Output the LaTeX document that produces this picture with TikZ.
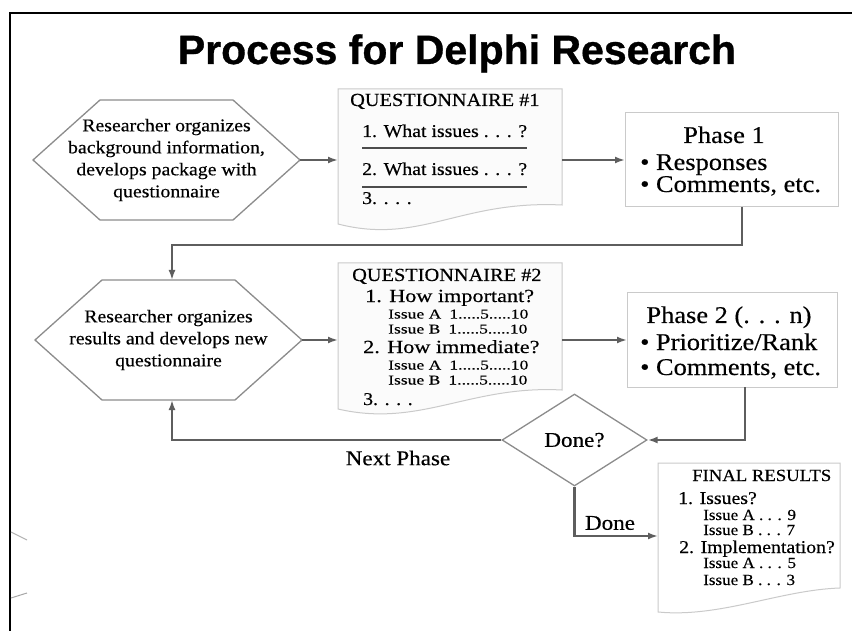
\documentclass[tikz,border=0pt]{standalone}
\usepackage{fontspec}
\setmainfont{Liberation Serif}[FakeStretch=1.1,FakeBold=0.35]
\newfontfamily\widefont{Liberation Serif}[FakeStretch=1.2,FakeBold=0.35]
\newfontfamily\issuefont{Liberation Serif}[FakeStretch=1.3,FakeBold=0.35]
\newfontfamily\titlefont{Liberation Sans Bold}[FakeBold=0.8]
\usetikzlibrary{arrows.meta,shapes.geometric,calc}
\definecolor{arrowgray}{HTML}{5E5E5E}
\definecolor{hexgray}{HTML}{8C8C8C}
\definecolor{boxgray}{HTML}{CACACA}
\newcommand{\fs}[2]{\fontsize{#1}{#2}\selectfont}
\begin{document}
\begin{tikzpicture}[x=1pt,y=-1pt,
  anchorbox/.style={draw=none, inner sep=0pt, outer sep=0pt, rectangle},
  hexnode/.style={anchorbox, align=center, font=\fs{18}{22}},
  hexline/.style={draw=hexgray, line width=1.3pt, line join=miter},
  docline/.style={draw=boxgray, line width=1pt, fill=gray!3},
  phasebox/.style={draw=boxgray, line width=1pt, fill=white, inner sep=0pt, outer sep=0pt, rectangle},
  arr/.style={draw=arrowgray, line width=2.3pt, -{Latex[length=10pt,width=7pt]}},
  txt/.style={inner sep=0pt, anchor=base west},
  qhead/.style={txt, font=\fs{18.5}{20}},
  qitem/.style={txt, font=\fs{18}{20}},
  qitemb/.style={txt, font=\widefont\fs{18.5}{20}},
  qsub/.style={txt, font=\issuefont\fs{13.5}{15}},
  phead/.style={inner sep=0pt, anchor=base, font=\fs{24}{26}},
  pitem/.style={txt, font=\fs{24}{26}},
  fhead/.style={txt, font=\fs{17}{18}},
  fitem/.style={txt, font=\fs{18}{19}},
  fsub/.style={txt, font=\fs{15.5}{16}},
  lbl/.style={inner sep=0pt, font=\fs{21}{24}},
  rule/.style={draw=black!70, line width=1.2pt}
]
\useasboundingbox (0,0) rectangle (852,631);
\fill[white] (0,0) rectangle (852,631);
% frame
\draw[line width=1.5pt] (852,13) -- (10,13) -- (10,631);
\draw[gray!60, line width=1pt] (11,532) -- (27,540);
\draw[gray!70, line width=1pt] (11,598) -- (27,593);

% title
\node[inner sep=0pt, anchor=base, font=\titlefont\fs{41}{43}] (title) at (457,64) {Process for Delphi Research};

% hexagon 1
\node[hexnode, minimum width=267pt, minimum height=120pt] (h1) at (166.5,160) {Researcher organizes\\background information,\\develops package with\\questionnaire};
\draw[hexline] (h1.west) -- ([xshift=67pt]h1.north west) -- ([xshift=-67pt]h1.north east) -- (h1.east) -- ([xshift=-67pt]h1.south east) -- ([xshift=67pt]h1.south west) -- cycle;

% questionnaire 1
\draw[docline] (338,89) -- (562,89) -- (562,205) .. controls (460,200) and (420,245) .. (338,224) -- cycle;
\node[anchorbox, minimum width=224pt, minimum height=142pt] (q1) at (450,160) {};
\node[qhead] (q1a) at (350,106) {QUESTIONNAIRE \#1};
\node[qitem] (q1b) at (362,137) {1. What issues . . . ?};
\draw[rule] (362,148) -- (527,148);
\node[qitem] (q1c) at (362,175) {2. What issues . . . ?};
\draw[rule] (362,187) -- (527,187);
\node[qitem] (q1d) at (362,204) {3. . . .};

% phase 1
\node[phasebox, minimum width=213pt, minimum height=94pt] (p1) at (731.5,160) {};
\node[phead] (p1a) at (724,143) {Phase 1};
\node[pitem] (p1b) at (640,170) {• Responses};
\node[pitem] (p1c) at (640,192) {• Comments, etc.};

% hexagon 2
\node[hexnode, minimum width=267pt, minimum height=120pt] (h2) at (168.5,340) {Researcher organizes\\results and develops new\\questionnaire};
\draw[hexline] (h2.west) -- ([xshift=67pt]h2.north west) -- ([xshift=-67pt]h2.north east) -- (h2.east) -- ([xshift=-67pt]h2.south east) -- ([xshift=67pt]h2.south west) -- cycle;

% questionnaire 2
\draw[docline] (338,263) -- (562,263) -- (562,390) .. controls (470,385) and (420,428) .. (338,409) -- cycle;
\node[anchorbox, minimum width=224pt, minimum height=150pt] (q2) at (450,340) {};
\node[qhead] (q2a) at (352,281) {QUESTIONNAIRE \#2};
\node[qitemb] (q2b) at (365,302) {1. How important?};
\node[qsub] (q2c) at (388,318.5) {Issue A\hspace{0.6em}1.....5.....10};
\node[qsub] (q2d) at (388,333.5) {Issue B\hspace{0.6em}1.....5.....10};
\node[qitemb] (q2e) at (363,353) {2. How immediate?};
\node[qsub] (q2f) at (388,369.5) {Issue A\hspace{0.6em}1.....5.....10};
\node[qsub] (q2g) at (388,384.5) {Issue B\hspace{0.6em}1.....5.....10};
\node[qitem] (q2h) at (363,405) {3. . . .};

% phase 2
\node[phasebox, minimum width=210pt, minimum height=94pt] (p2) at (732,340) {};
\node[phead] (p2a) at (729,323) {Phase 2 (. . . n)};
\node[pitem] (p2b) at (640,350) {• Prioritize/Rank};
\node[pitem] (p2c) at (640,375) {• Comments, etc.};

% decision
\node[diamond, draw=hexgray, line width=1.3pt, fill=white, minimum width=145pt, minimum height=92pt, inner sep=0pt, font=\fs{21}{24}] (dn) at (574.5,440) {Done?};

% final results
\draw[docline, fill=white] (658,463) -- (840,463) -- (840,588) .. controls (780,590) and (720,618) .. (658,612) -- cycle;
\node[anchorbox, minimum width=182pt, minimum height=146pt] (fr) at (749,536) {};
\node[fhead] (fra) at (692,481) {FINAL RESULTS};
\node[fitem] (frb) at (678,504) {1. Issues?};
\node[fsub] (frc) at (703,520) {Issue A . . . 9};
\node[fsub] (frd) at (703,535) {Issue B . . . 7};
\node[fitem] (fre) at (679,553) {2. Implementation?};
\node[fsub] (frf) at (703,568) {Issue A . . . 5};
\node[fsub] (frg) at (703,585) {Issue B . . . 3};

% connectors
\draw[arr] (h1.east) -- (q1.west);
\draw[arr] (q1.east) -- (p1.west);
\draw[arr] ([xshift=10.5pt]p1.south) -- ++(0,38) -| ([xshift=3.5pt]h2.north);
\draw[arr] (h2.east) -- (q2.west);
\draw[arr] (q2.east) -- (p2.west);
\draw[arr] ([xshift=13pt]p2.south) |- (dn.east);
\draw[arr] (dn.west) -| ([xshift=3.5pt]h2.south);
\draw[arr] (dn.south) |- (fr.west);

% labels
\node[lbl] (np) at (398,458) {Next Phase};
\node[lbl] (dl) at (610,523) {Done};
\end{tikzpicture}
\end{document}
